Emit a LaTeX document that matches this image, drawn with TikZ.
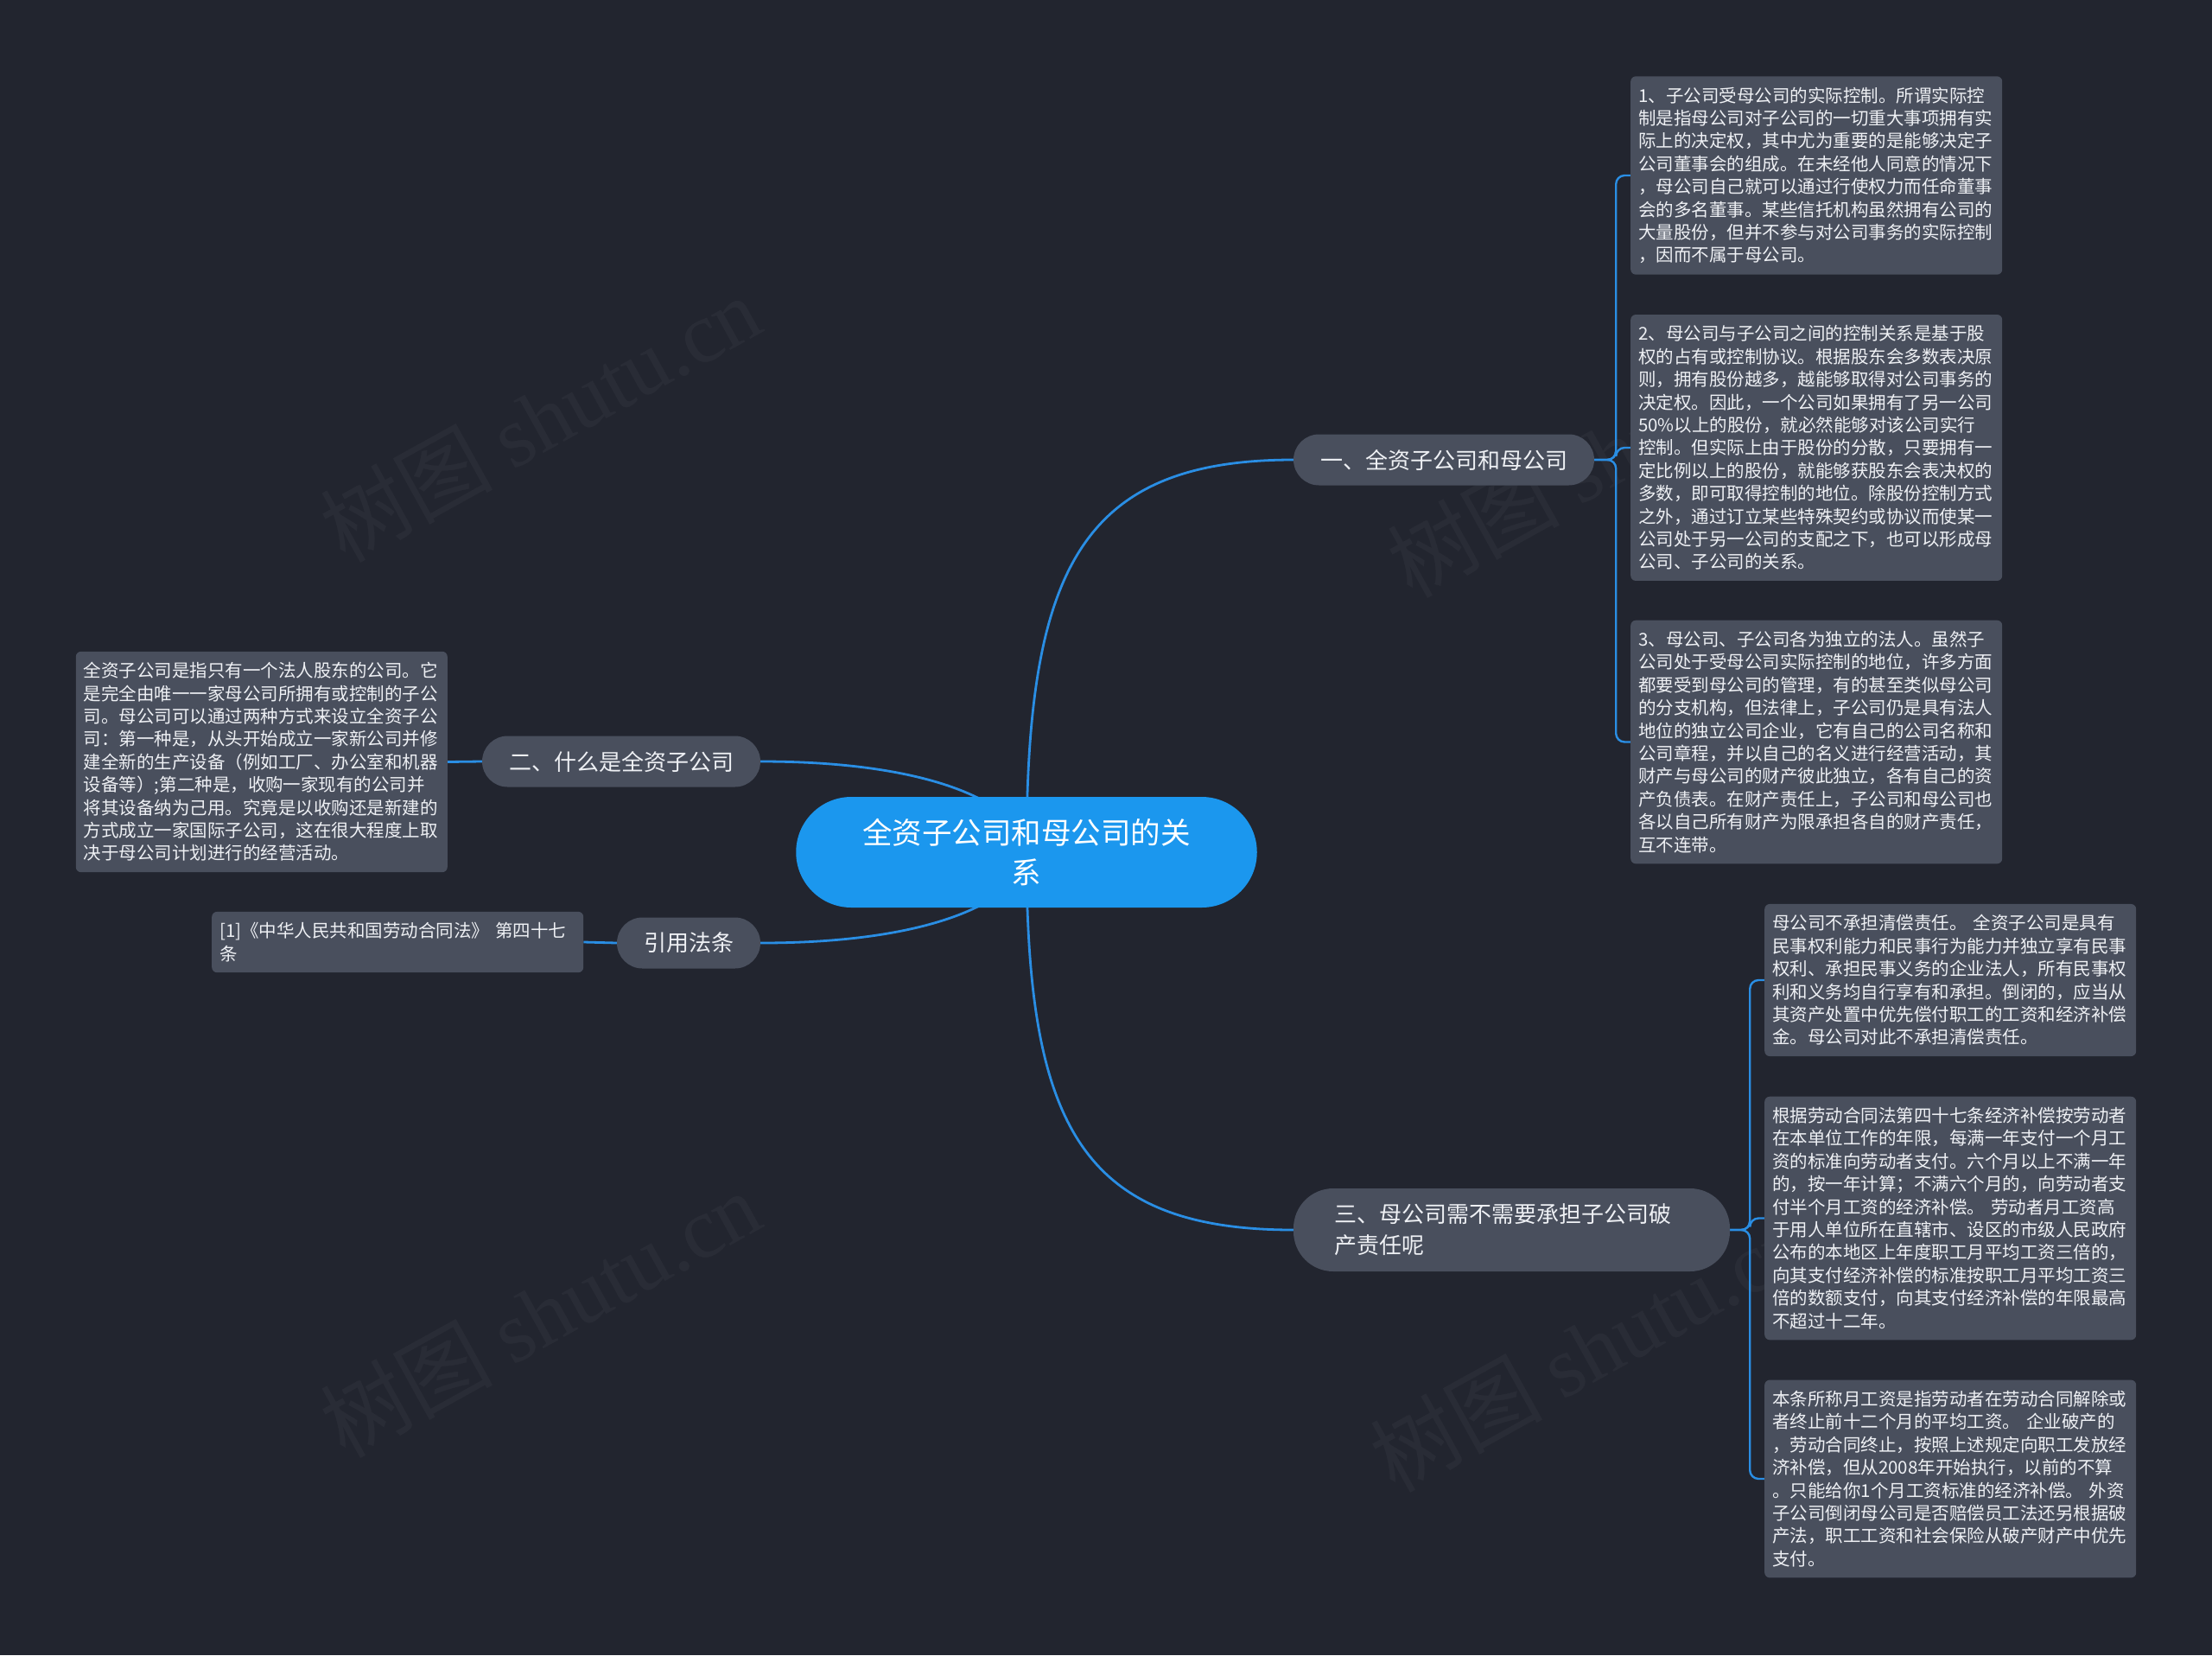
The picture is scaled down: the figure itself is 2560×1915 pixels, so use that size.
\documentclass[tikz,border=0pt]{standalone}
\usepackage{fontspec}
\setmainfont{Noto Sans CJK SC}
\newfontfamily\wmserif{Liberation Serif}
\usepackage{tikz}
\usetikzlibrary{arrows.meta,positioning,calc}
\usepackage{xcolor}

\definecolor{bgdark}{RGB}{34,37,47}
\definecolor{boxgray}{RGB}{73,79,93}
\definecolor{rootblue}{RGB}{27,151,238}
\definecolor{linkblue}{RGB}{42,142,228}
\definecolor{textwhite}{RGB}{238,240,244}

\pgfdeclarelayer{bg}
\pgfsetlayers{bg,main}

\tikzset{
  mindroot/.style={fill=rootblue, text=white, rounded corners=64pt, align=center,
    inner xsep=77pt, minimum height=128pt, font=\fontsize{34.5}{46}\selectfont},
  branchnode/.style={fill=boxgray, text=textwhite, rounded corners=29.5pt,
    inner xsep=31pt, inner ysep=0pt, minimum height=59pt, font=\fontsize{26}{36}\selectfont},
  leafbox/.style={fill=boxgray, text=textwhite, rounded corners=6pt, align=left,
    text width=412pt, inner xsep=9pt, inner ysep=12.5pt, font=\fontsize{20.5}{26.4}\selectfont},
  link/.style={draw=linkblue, line width=2.8pt},
  bracket/.style={draw=linkblue, line width=2.4pt, rounded corners=10pt},
  watermark/.style={text=white, text opacity=0.035, rotate=29, font=\fontsize{100}{100}\selectfont}
}

\begin{document}
\begin{tikzpicture}[x=1pt, y=-1pt]

  % Background and bounding box
\begin{pgfonlayer}{bg}
\fill[bgdark] (0,0) rectangle (2560,1915);
\useasboundingbox (0,0) rectangle (2560,1915);
\node[watermark] (wm1) at (625,484) {树图 {\wmserif shutu.cn}}; \node[watermark] (wm2) at (625,1520) {树图 {\wmserif shutu.cn}};
\node[watermark] (wm3) at (1860,525) {树图 {\wmserif shutu.cn}}; \node[watermark] (wm4) at (1840,1560) {树图 {\wmserif shutu.cn}};
\end{pgfonlayer}

  % Define root and branch nodes
\node[mindroot] (root) at (1188,986) {全资子公司和母公司的关\\系};
\node[branchnode] (b1) at (1671,532) {一、全资子公司和母公司};
\node[branchnode] (b2) at (719,881) {二、什么是全资子公司};
\node[branchnode] (bref) at (797,1091) {引用法条};
\node[branchnode, rounded corners=46pt, text width=410pt, align=left, inner xsep=47.5pt, minimum height=96pt] (b3) at (1749.5,1423) {三、母公司需不需要承担子公司破\\产责任呢};

  % Define leaf boxes
\node[leafbox, anchor=west] (c1) at (1887,203) {1、子公司受母公司的实际控制。所谓实际控\\
制是指母公司对子公司的一切重大事项拥有实\\
际上的决定权，其中尤为重要的是能够决定子\\
公司董事会的组成。在未经他人同意的情况下\\
，母公司自己就可以通过行使权力而任命董事\\
会的多名董事。某些信托机构虽然拥有公司的\\
大量股份，但并不参与对公司事务的实际控制\\
，因而不属于母公司。};
\node[leafbox, anchor=west] (c2) at (1887,518) {2、母公司与子公司之间的控制关系是基于股\\
权的占有或控制协议。根据股东会多数表决原\\
则，拥有股份越多，越能够取得对公司事务的\\
决定权。因此，一个公司如果拥有了另一公司\\
50\%以上的股份，就必然能够对该公司实行\\
控制。但实际上由于股份的分散，只要拥有一\\
定比例以上的股份，就能够获股东会表决权的\\
多数，即可取得控制的地位。除股份控制方式\\
之外，通过订立某些特殊契约或协议而使某一\\
公司处于另一公司的支配之下，也可以形成母\\
公司、子公司的关系。};
\node[leafbox, anchor=west] (c3) at (1887,858.5) {3、母公司、子公司各为独立的法人。虽然子\\
公司处于受母公司实际控制的地位，许多方面\\
都要受到母公司的管理，有的甚至类似母公司\\
的分支机构，但法律上，子公司仍是具有法人\\
地位的独立公司企业，它有自己的公司名称和\\
公司章程，并以自己的名义进行经营活动，其\\
财产与母公司的财产彼此独立，各有自己的资\\
产负债表。在财产责任上，子公司和母公司也\\
各以自己所有财产为限承担各自的财产责任，\\
互不连带。};
\node[leafbox, anchor=west] (c4) at (2042,1134) {母公司不承担清偿责任。 全资子公司是具有\\
民事权利能力和民事行为能力并独立享有民事\\
权利、承担民事义务的企业法人，所有民事权\\
利和义务均自行享有和承担。倒闭的，应当从\\
其资产处置中优先偿付职工的工资和经济补偿\\
金。母公司对此不承担清偿责任。};
\node[leafbox, anchor=west] (c5) at (2042,1409.5) {根据劳动合同法第四十七条经济补偿按劳动者\\
在本单位工作的年限，每满一年支付一个月工\\
资的标准向劳动者支付。六个月以上不满一年\\
的，按一年计算；不满六个月的，向劳动者支\\
付半个月工资的经济补偿。 劳动者月工资高\\
于用人单位所在直辖市、设区的市级人民政府\\
公布的本地区上年度职工月平均工资三倍的，\\
向其支付经济补偿的标准按职工月平均工资三\\
倍的数额支付，向其支付经济补偿的年限最高\\
不超过十二年。};
\node[leafbox, anchor=west] (c6) at (2042,1711) {本条所称月工资是指劳动者在劳动合同解除或\\
者终止前十二个月的平均工资。 企业破产的\\
，劳动合同终止，按照上述规定向职工发放经\\
济补偿，但从2008年开始执行，以前的不算\\
。只能给你1个月工资标准的经济补偿。 外资\\
子公司倒闭母公司是否赔偿员工法还另根据破\\
产法，职工工资和社会保险从破产财产中优先\\
支付。};
\node[leafbox, anchor=east] (lbox) at (518,881.5) {全资子公司是指只有一个法人股东的公司。它\\
是完全由唯一一家母公司所拥有或控制的子公\\
司。母公司可以通过两种方式来设立全资子公\\
司：第一种是，从头开始成立一家新公司并修\\
建全新的生产设备（例如工厂、办公室和机器\\
设备等）;第二种是，收购一家现有的公司并\\
将其设备纳为己用。究竟是以收购还是新建的\\
方式成立一家国际子公司，这在很大程度上取\\
决于母公司计划进行的经营活动。};
\node[leafbox, anchor=west] (refbox) at (245,1090) {[1]《中华人民共和国劳动合同法》 第四十七\\条};

  % Draw connectors behind the nodes
\begin{pgfonlayer}{bg}
\draw[link] (root.center) .. controls (1188,660) and (1250,532) .. (b1.west);
\draw[link] (root.center) .. controls (1188,1300) and (1250,1423) .. (b3.west);
\draw[link] (root.center) .. controls (1188,940) and (1100,881) .. (b2.east);
\draw[link] (root.center) .. controls (1188,1032) and (1100,1091) .. (bref.east);
\draw[link] (b2.west) -- (lbox.east); \draw[link] (bref.west) -- (refbox.east);
\draw[bracket] (b1.east) -- ++(25,0) |- (c1.west); \draw[bracket] (b1.east) -- ++(25,0) |- (c2.west); \draw[bracket] (b1.east) -- ++(25,0) |- (c3.west);
\draw[bracket] (b3.east) -- ++(23,0) |- (c4.west); \draw[bracket] (b3.east) -- ++(23,0) |- (c5.west); \draw[bracket] (b3.east) -- ++(23,0) |- (c6.west);
\end{pgfonlayer}

\end{tikzpicture}
\end{document}
